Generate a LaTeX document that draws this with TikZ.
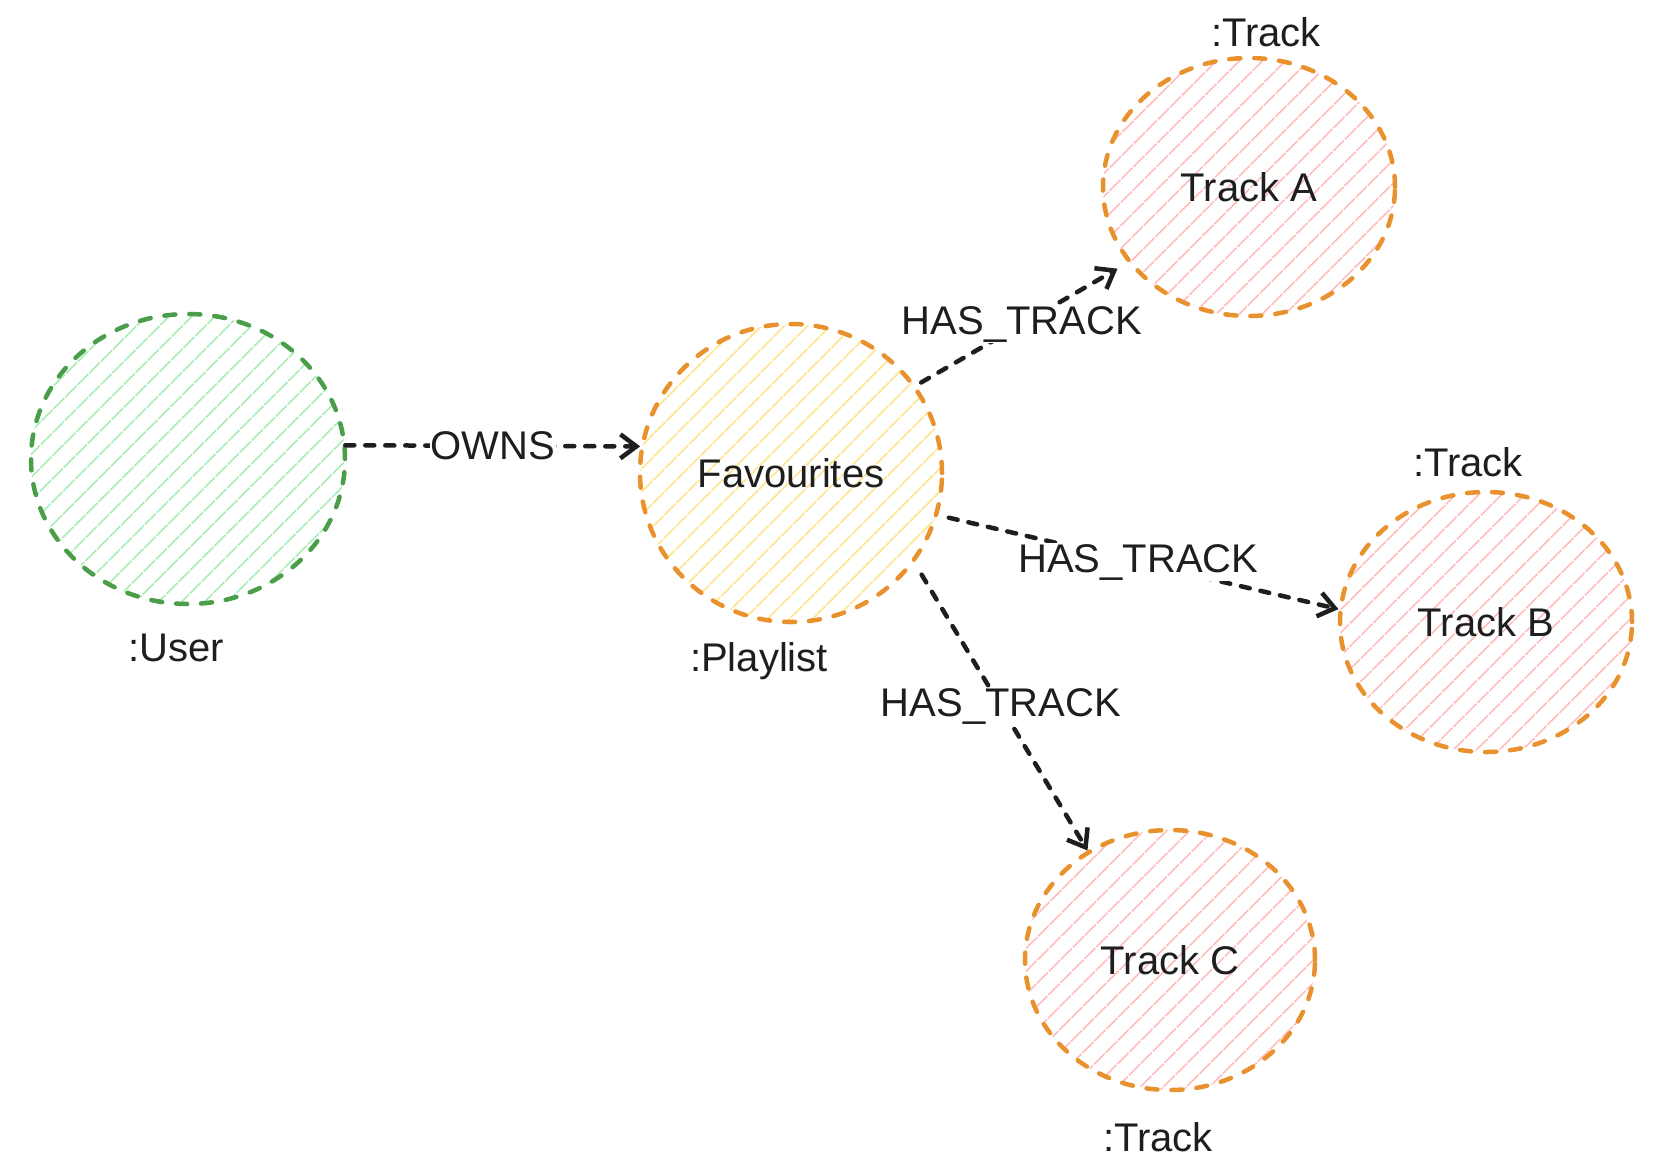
\documentclass[tikz,border=0pt]{standalone}
\usepackage{fontspec}
\setmainfont{Liberation Sans}
\usetikzlibrary{arrows.meta,shapes.geometric,patterns.meta}

\definecolor{usrline}{HTML}{4A9E4A}
\definecolor{usrfill}{HTML}{A8EEB4}
\definecolor{nodeline}{HTML}{E8912D}
\definecolor{listfill}{HTML}{FFE48A}
\definecolor{trkfill}{HTML}{FFBDBD}
\definecolor{ink}{HTML}{1E1E1E}

\begin{document}
\begin{tikzpicture}[
    x=1pt, y=-1pt,
    every node/.style={font=\fontsize{40}{48}\selectfont, text=ink},
    nd/.style={ellipse, draw, line width=4.5pt, line cap=round,
               dash pattern=on 11pt off 14pt, inner sep=0pt},
    usr/.style={nd, draw=usrline,
                pattern={Lines[angle=45,distance=17pt,line width=2pt]},
                pattern color=usrfill},
    lst/.style={nd, draw=nodeline,
                pattern={Lines[angle=45,distance=17pt,line width=2pt]},
                pattern color=listfill},
    trk/.style={nd, draw=nodeline,
                pattern={Lines[angle=45,distance=17pt,line width=2pt]},
                pattern color=trkfill},
    tag/.style={inner sep=2pt},
    e/.style={draw=ink, line width=4.5pt, line cap=round,
              dash pattern=on 9pt off 11pt,
              -{Straight Barb[length=16pt, width=24pt, line width=4.5pt]}},
    lbl/.style={fill=white, inner sep=1pt},
  ]
  \fill[white] (0,0) rectangle (1654,1160);
  \useasboundingbox (0,0) rectangle (1654,1160);

  \node[usr, minimum width=314pt, minimum height=290pt] (user) at (188, 459) {};
  \node[lst, minimum width=302pt, minimum height=298pt] (fav) at (791, 473) {Favourites};
  \node[trk, minimum width=292pt, minimum height=258pt] (trkA) at (1249, 187) {Track A};
  \node[trk, minimum width=292pt, minimum height=260pt] (trkB) at (1486, 622) {Track B};
  \node[trk, minimum width=290pt, minimum height=260pt] (trkC) at (1170, 960) {Track C};

  \node[tag] (userlbl) at (176, 648) {:User};
  \node[tag] (favlbl) at (759, 661) {:Playlist};
  \node[tag] (trkAlbl) at (1266, 32) {:Track};
  \node[tag] (trkBlbl) at (1468, 462) {:Track};
  \node[tag] (trkClbl) at (1158, 1137) {:Track};

  \draw[e] (user.5) -- node[lbl] {OWNS} (fav.170);
  \draw[e, shorten <=6pt, shorten >=12pt] (fav.35) -- node[lbl] {HAS\_TRACK} (trkA.212);
  \draw[e, shorten <=11pt] (fav.-16) -- node[lbl] {HAS\_TRACK} (trkB.175);
  \draw[e, shorten <=14pt] (fav.-36) -- node[lbl] {HAS\_TRACK} (trkC.127);
\end{tikzpicture}
\end{document}
